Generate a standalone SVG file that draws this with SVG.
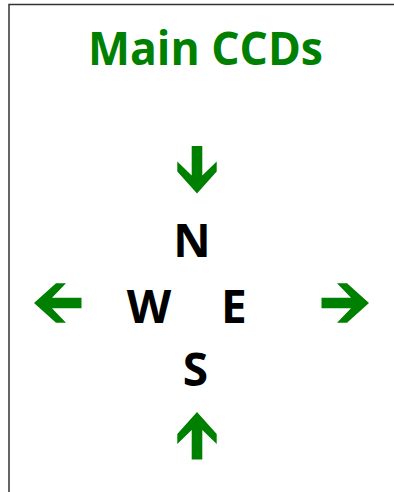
<svg xmlns="http://www.w3.org/2000/svg" width="394" height="492" viewBox="0 0 394 492">
<style>
.title{font-family:"Open Sans","Liberation Sans",sans-serif;font-weight:bold;font-size:46px;fill:#008000}
.dir{font-family:"Open Sans","Liberation Sans",sans-serif;font-weight:bold;font-size:46px;fill:#000;text-anchor:middle}
.arrow{fill:#008000}
</style>
<defs>
<polygon id="arr" points="0,0 19.7,-22 19.7,-32 5.3,-18 5.3,-47.5 -5.3,-47.5 -5.3,-18 -19.7,-32 -19.7,-22"/>
</defs>
<rect width="394" height="492" fill="#fff"/>
<path d="M9,492 V4.5 H394" fill="none" stroke="#333" stroke-width="1.5"/>
<g id="title"><text class="title" x="88" y="65" textLength="235" lengthAdjust="spacingAndGlyphs">Main CCDs</text></g>
<g id="N"><text class="dir" x="192" y="257">N</text></g>
<g id="W"><text class="dir" x="149" y="323">W</text></g>
<g id="E"><text class="dir" x="234" y="323">E</text></g>
<g id="S"><text class="dir" x="195.5" y="386">S</text></g>
<g id="connectors">
<use href="#arr" class="arrow" transform="translate(197,193.5)"/>
<use href="#arr" class="arrow" transform="translate(197,412) rotate(180)"/>
<use href="#arr" class="arrow" transform="translate(34,303) rotate(90)"/>
<use href="#arr" class="arrow" transform="translate(369,303) rotate(-90)"/>
</g>
</svg>
